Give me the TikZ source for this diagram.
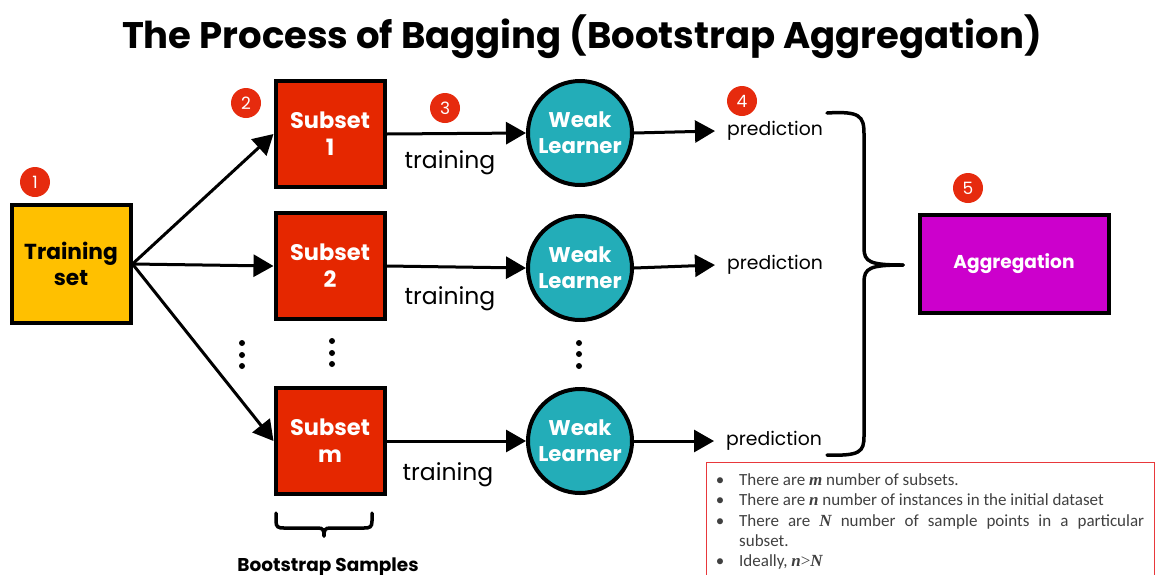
\documentclass[tikz,border=0pt]{standalone}
\usepackage{fontspec}
\setmainfont{Poppins}
\newfontfamily\notefont{Carlito}
\newfontfamily\varfont{Liberation Serif}
\usetikzlibrary{positioning,arrows.meta}
\definecolor{setyellow}{HTML}{FFC000}
\definecolor{subred}{HTML}{E52700}
\definecolor{badgered}{HTML}{E62B0E}
\definecolor{learnteal}{HTML}{23ADB8}
\definecolor{aggmagenta}{HTML}{CC00CC}
\definecolor{notegray}{HTML}{404040}
\definecolor{notered}{HTML}{E8383B}
\newcommand{\notevar}[1]{{\varfont\bfseries\itshape #1}}

\begin{document}
\begin{tikzpicture}[x=1pt,y=-1pt,
  setbox/.style={draw=black, line width=4pt, fill=setyellow, minimum width=119pt, minimum height=118pt, align=center, font=\bfseries\fontsize{21.7}{26}\selectfont},
  subbox/.style={draw=black, line width=4pt, fill=subred, text=white, minimum width=109pt, minimum height=106pt, align=center, font=\bfseries\fontsize{22.5}{27}\selectfont},
  learner/.style={circle, draw=black, line width=4pt, fill=learnteal, text=white, minimum size=104pt, inner sep=0pt, align=center, font=\bfseries\fontsize{21.3}{26}\selectfont},
  aggbox/.style={draw=black, line width=4pt, fill=aggmagenta, text=white, minimum width=189pt, minimum height=98pt, font=\bfseries\fontsize{18.6}{22}\selectfont},
  badge/.style={circle, fill=badgered, text=white, minimum size=30pt, inner sep=0pt, font=\fontsize{17}{17}\selectfont},
  trainlabel/.style={font=\fontsize{23.5}{28}\selectfont},
  predlabel/.style={inner sep=0pt, anchor=west, font=\fontsize{18.8}{22}\selectfont},
  notetext/.style={inner sep=0pt, anchor=base west, text=notegray, font=\notefont\fontsize{17}{18}\selectfont},
  arr/.style={line width=3pt, -{Triangle[length=20pt,width=22pt]}},
  brc/.style={line width=3.5pt, line cap=round}]
\useasboundingbox (0,0) rectangle (1155,574);
\clip (0,0) rectangle (1155,574);

\node[font=\bfseries\fontsize{37}{42}\selectfont] (title) at (582,37) {The Process of Bagging (Bootstrap Aggregation)};

\node[setbox] (train) at (71,264) {Training\\set};
\node[subbox] (sub1) at (330,134) {Subset\\1};
\node[subbox] (sub2) at (330,266) {Subset\\2};
\node[subbox] (subm) at (330,441) {Subset\\m};
\node[learner] (wl1) at (580,133) {Weak\\Learner};
\node[learner] (wl2) at (580,268) {Weak\\Learner};
\node[learner] (wlm) at (580,441) {Weak\\Learner};
\node[predlabel] (pr1) at (727,131) {prediction};
\node[predlabel] (pr2) at (727,265) {prediction};
\node[predlabel] (prm) at (726,441) {prediction};
\node[aggbox] (agg) at (1014,264) {Aggregation};

\node[trainlabel] (tr1) at (450,163) {training};
\node[trainlabel] (tr2) at (450,299) {training};
\node[trainlabel] (trm) at (448,475) {training};

\node[badge] (b1) at (35,182) {1};
\node[badge] (b2) at (246,103) {2};
\node[badge] (b3) at (445,108) {3};
\node[badge] (b4) at (742,101) {4};
\node[badge] (b5) at (968,188) {5};

\draw[arr] (train.east) -- (sub1.west);
\draw[arr] (train.east) -- (sub2.west);
\draw[arr] (train.east) -- (subm.west);
\draw[arr] (sub1.east) -- (wl1.west);
\draw[arr] (sub2.east) -- (wl2.west);
\draw[arr] (subm.east) -- (wlm.west);
\draw[arr] (wl1.east) -- ([xshift=-12pt]pr1.west);
\draw[arr] (wl2.east) -- ([xshift=-12pt]pr2.west);
\draw[arr] (wlm.east) -- ([xshift=-12pt]prm.west);

\foreach \x/\y in {242/343, 242/355, 242/366, 332/341, 332/353, 332/364, 579/343, 579/354, 579/366}
  \fill (\x,\y) circle (3pt);

\draw[brc] (827,113) .. controls (860,111) and (864,116) .. (864,134) -- (864,248) .. controls (864,262) and (870,265) .. (903,265);
\draw[brc] (903,265) .. controls (870,265) and (864,268) .. (864,282) -- (864,436) .. controls (864,452) and (860,456) .. (827,455);
\draw[brc] (276,513) -- (276,521) .. controls (276,527) and (278,528) .. (284,528) -- (318,528) .. controls (323,528) and (324,530) .. (324,536);
\draw[brc] (372,513) -- (372,521) .. controls (372,527) and (370,528) .. (364,528) -- (330,528) .. controls (325,528) and (324,530) .. (324,536);
\node[font=\bfseries\fontsize{18.5}{20}\selectfont] (boot) at (328,567) {Bootstrap Samples};

\draw[notered, line width=1pt] (706,462) rectangle (1154,590);
\foreach \y [count=\i] in {485,505,526,566}
  \node[notetext, anchor=base] (bul\i) at (720,\y) {\textbullet};
\node[notetext] (n1) at (739,485) {There are \notevar{m} number of subsets.};
\node[notetext] (n2) at (739,505) {There are \notevar{n} number of instances in the initial dataset};
\node[notetext] (n3) at (739,526) {\makebox[405pt][s]{There are \notevar{N} number of sample points in a particular}};
\node[notetext] (n3b) at (739,546) {subset.};
\node[notetext] (n4) at (739,566) {Ideally, \notevar{n}{\varfont >}\notevar{N}};
\end{tikzpicture}
\end{document}
